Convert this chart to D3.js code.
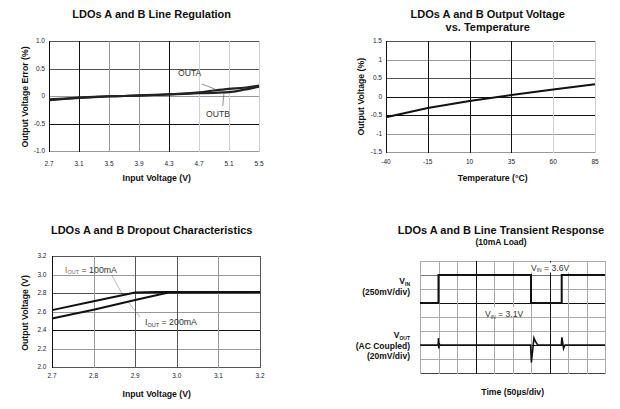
<!DOCTYPE html>
<html><head><meta charset="utf-8">
<script src="https://cdn.jsdelivr.net/npm/d3@7"></script>
<style>body{margin:0;background:#fff}svg{display:block}text{font-family:"Liberation Sans",Arial,sans-serif}</style>
</head><body>
<svg id="c" width="620" height="409"></svg>
<script>
// ---- Data ----
// Chart 1: Line regulation
const lrVin  = [2.7, 2.9, 3.1, 3.3, 3.5, 3.7, 3.9, 4.1, 4.3, 4.5, 4.7, 4.9, 5.1, 5.3, 5.5];
const lrOutA = [-0.06,-0.045,-0.03,-0.015,-0.005,0.0,0.01,0.02,0.03,0.045,0.065,0.1,0.13,0.15,0.19];
const lrOutB = [-0.075,-0.055,-0.035,-0.02,-0.008,0.0,0.008,0.018,0.028,0.04,0.05,0.058,0.07,0.115,0.17];
const lrXTicks = [2.7,3.1,3.5,3.9,4.3,4.7,5.1,5.5];
const lrYTicks = [1.0,0.5,0,-0.5,-1.0];
const lrYLabels = ["1.0","0.5","0","-0.5","-1.0"];
// Chart 2: Output voltage vs temperature
const tTemp = [-40,-15,10,35,60,85];
const tVal  = [-0.56,-0.31,-0.12,0.04,0.19,0.33];
const tXTicks = [-40,-15,10,35,60,85];
const tYTicks = [1.5,1,0.5,0,-0.5,-1,-1.5];
// Chart 3: Dropout
const d100Vin = [2.7,2.8,2.9,2.95,3.2];
const d100V   = [2.615,2.71,2.805,2.81,2.81];
const d200Vin = [2.7,2.8,2.9,2.98,3.2];
const d200V   = [2.525,2.62,2.725,2.805,2.81];
const dXTicks = [2.7,2.8,2.9,3.0,3.1,3.2];
const dYTicks = [3.2,3.0,2.8,2.6,2.4,2.2,2.0];
// Chart 4: Line transient (time in us)
const vinT = [0,50,50,300,300,383,383,500];
const vinV = [3.1,3.1,3.6,3.6,3.1,3.1,3.6,3.6];
const voutT  = [0,49,50,50.7,52,54,299,301,305,308,312,318,382,383.5,386,388,392,500];
const voutMV = [0,0,10,-5,2,0,0,-25,-5,10,5,0,0,11,2,-5,0,0];

const svg = d3.select("#c");
function title(x,y,t,s){svg.append("text").attr("x",x).attr("y",y).attr("text-anchor","middle").attr("font-weight","bold").attr("font-size",s||11).attr("fill","#111").text(t);}
function ylab(x,y,t){svg.append("text").attr("transform",`translate(${x},${y}) rotate(-90)`).attr("text-anchor","middle").attr("dy","0.35em").attr("font-weight","bold").attr("font-size",8.7).attr("fill","#111").text(t);}
function xlab(x,y,t){svg.append("text").attr("x",x).attr("y",y).attr("text-anchor","middle").attr("dy","0.35em").attr("font-weight","bold").attr("font-size",8.7).attr("fill","#111").text(t);}
function vgrid(xs, ticks, y0, y1, colors){ticks.forEach((t,i)=>{const x=Math.round(xs(t))+0.5;svg.append("line").attr("x1",x).attr("x2",x).attr("y1",y0).attr("y2",y1).attr("stroke",colors[i]).attr("stroke-width",1);});}
function hgrid(ys, ticks, x0, x1, colors){ticks.forEach((t,i)=>{const y=Math.round(ys(t))+0.5;svg.append("line").attr("x1",x0).attr("x2",x1).attr("y1",y).attr("y2",y).attr("stroke",colors[i]).attr("stroke-width",1);});}
function xticks(xs, ticks, y, fmt){ticks.forEach(t=>svg.append("text").attr("x",xs(t)).attr("y",y).attr("text-anchor","middle").attr("font-size",6.5).attr("fill","#223").text(fmt(t)));}
function yticks(ys, ticks, x, labels){ticks.forEach((t,i)=>svg.append("text").attr("x",x).attr("y",ys(t)).attr("dy","0.35em").attr("text-anchor","end").attr("font-size",6.5).attr("fill","#223").text(labels[i]));}
const K="#111", G="#999", L="#cfcfcf", D="#555";

// ===== Chart 1 =====
{
const x=d3.scaleLinear().domain([2.7,5.5]).range([49,259]);
const y=d3.scaleLinear().domain([-1,1]).range([151,41]);
title(151.7,18,"LDOs A and B Line Regulation");
hgrid(y,lrYTicks,49,260,[D,D,G,K,G]);
vgrid(x,lrXTicks,41,152,[K,K,G,G,K,L,L,L]);
xticks(x,lrXTicks,165.5,d=>d.toFixed(1));
yticks(y,lrYTicks,45,lrYLabels);
const ln=d3.line().x(d=>x(d[0])).y(d=>y(d[1])).curve(d3.curveMonotoneX);
[lrOutB,lrOutA].forEach(s=>svg.append("path").attr("d",ln(lrVin.map((v,i)=>[v,s[i]]))).attr("fill","none").attr("stroke","#222").attr("stroke-width",2.2));
svg.append("text").attr("x",178).attr("y",76).attr("font-size",8.6).attr("fill","#333").text("OUTA");
svg.append("text").attr("x",206).attr("y",116.5).attr("font-size",8.6).attr("fill","#333").text("OUTB");
svg.append("line").attr("x1",201.7).attr("y1",84).attr("x2",215).attr("y2",89).attr("stroke","#444").attr("stroke-width",0.6);
svg.append("line").attr("x1",224).attr("y1",93).attr("x2",222.7).attr("y2",106).attr("stroke","#444").attr("stroke-width",0.6);
ylab(25,97,"Output Voltage Error (%)");
xlab(156.7,178,"Input Voltage (V)");
}
// ===== Chart 2 =====
{
const x=d3.scaleLinear().domain([-40,85]).range([386,595]);
const y=d3.scaleLinear().domain([-1.5,1.5]).range([152,41]);
title(487.7,18,"LDOs A and B Output Voltage");
title(487.7,30.5,"vs. Temperature");
hgrid(y,tYTicks,386,596,[D,G,D,K,K,G,G]);
vgrid(x,tXTicks,41,153,[K,K,K,K,L,L]);
xticks(x,tXTicks,164,d=>String(d));
yticks(y,tYTicks,382,tYTicks.map(String));
const ln=d3.line().x(d=>x(d[0])).y(d=>y(d[1]));
svg.append("path").attr("d",ln(tTemp.map((v,i)=>[v,tVal[i]]))).attr("fill","none").attr("stroke","#111").attr("stroke-width",2);
ylab(360.7,96.7,"Output Voltage (%)");
xlab(492.7,178,"Temperature (°C)");
}
// ===== Chart 3 =====
{
const x=d3.scaleLinear().domain([2.7,3.2]).range([52,260]);
const y=d3.scaleLinear().domain([2.0,3.2]).range([367,256]);
title(151.7,234,"LDOs A and B Dropout Characteristics");
hgrid(y,dYTicks,52,261,[D,G,D,G,K,G,D]);
vgrid(x,dXTicks,256,368,[K,G,D,D,G,D]);
xticks(x,dXTicks,378,d=>d.toFixed(1));
yticks(y,dYTicks,46.5,dYTicks.map(d=>d.toFixed(1)));
const ln=d3.line().x(d=>x(d[0])).y(d=>y(d[1]));
svg.append("path").attr("d",ln(d100Vin.map((v,i)=>[v,d100V[i]]))).attr("fill","none").attr("stroke","#111").attr("stroke-width",2);
svg.append("path").attr("d",ln(d200Vin.map((v,i)=>[v,d200V[i]]))).attr("fill","none").attr("stroke","#111").attr("stroke-width",2);
const t1=svg.append("text").attr("x",65).attr("y",272.5).attr("font-size",8.8).attr("fill","#333");
t1.append("tspan").attr("fill","#b86a2a").text("I");
t1.append("tspan").attr("font-size",5.5).attr("dy",1.5).attr("fill","#667").text("OUT");
t1.append("tspan").attr("dy",-1.5).text(" = 100mA");
const t2=svg.append("text").attr("x",145).attr("y",325).attr("font-size",8.8).attr("fill","#333");
t2.append("tspan").text("I");
t2.append("tspan").attr("font-size",5.5).attr("dy",1.5).text("OUT");
t2.append("tspan").attr("dy",-1.5).text(" = 200mA");
svg.append("line").attr("x1",111.7).attr("y1",275).attr("x2",121.7).attr("y2",293).attr("stroke","#888").attr("stroke-width",0.6);
svg.append("line").attr("x1",129).attr("y1",303).attr("x2",140).attr("y2",317).attr("stroke","#888").attr("stroke-width",0.6);
ylab(25,313,"Output Voltage (V)");
xlab(156.7,394.3,"Input Voltage (V)");
}
// ===== Chart 4 =====
{
const x=d3.scaleLinear().domain([0,500]).range([420,605]);
const yDiv=d3.scaleLinear().domain([0,8]).range([261,373]);
const yVin=d3.scaleLinear().domain([3.85,1.85]).range([261,373]);
const yOut=d3.scaleLinear().domain([120,-40]).range([261,373]);
title(501,234,"LDOs A and B Line Transient Response");
title(501,244.7,"(10mA Load)",8.5);
const divs=d3.range(0,11), hd=d3.range(0,9);
const vc=divs.map(i=> (i===3||i===7)?K:"#aaa");
const hc=hd.map(i=> (i===3||i===6)?K:(i===1?"#777":(i===8?"#444":"#aaa")));
hgrid(yDiv,hd,420,605,hc);
vgrid(d3.scaleLinear().domain([0,10]).range([420,605]),divs,261,374,vc);
svg.append("rect").attr("x",529).attr("y",262.5).attr("width",44).attr("height",10).attr("fill","#fff");
svg.append("rect").attr("x",483).attr("y",307).attr("width",44).attr("height",10).attr("fill","#fff");
const a=svg.append("text").attr("x",531).attr("y",270.5).attr("font-size",8.6).attr("fill","#333");
a.append("tspan").text("V");a.append("tspan").attr("font-size",5).attr("dy",1.5).text("IN");a.append("tspan").attr("dy",-1.5).text(" = 3.6V");
const b=svg.append("text").attr("x",485).attr("y",317).attr("font-size",8.6).attr("fill","#333");
b.append("tspan").text("V");b.append("tspan").attr("font-size",5).attr("dy",1.5).text("IN");b.append("tspan").attr("dy",-1.5).text(" = 3.1V");
const lnV=d3.line().x(d=>x(d[0])).y(d=>yVin(d[1]));
svg.append("path").attr("d",lnV(vinT.map((t,i)=>[t,vinV[i]]))).attr("fill","none").attr("stroke","#111").attr("stroke-width",2);
const lnO=d3.line().x(d=>x(d[0])).y(d=>yOut(d[1]));
svg.append("path").attr("d",lnO(voutT.map((t,i)=>[t,voutMV[i]]))).attr("fill","none").attr("stroke","#111").attr("stroke-width",1.6);
function side(yb,main,sub){const t=svg.append("text").attr("x",410).attr("y",yb).attr("text-anchor","end").attr("font-weight","bold").attr("font-size",8.5).attr("fill","#111");
 if(sub){t.append("tspan").text(main);t.append("tspan").attr("font-size",5).attr("dy",1.5).text(sub);} else t.text(main);}
side(284,"V","IN");
side(294.5,"(250mV/div)");
side(338,"V","OUT");
side(348.5,"(AC Coupled)");
side(359,"(20mV/div)");
xlab(512.7,392.3,"Time (50µs/div)");
}
</script>
</body></html>
